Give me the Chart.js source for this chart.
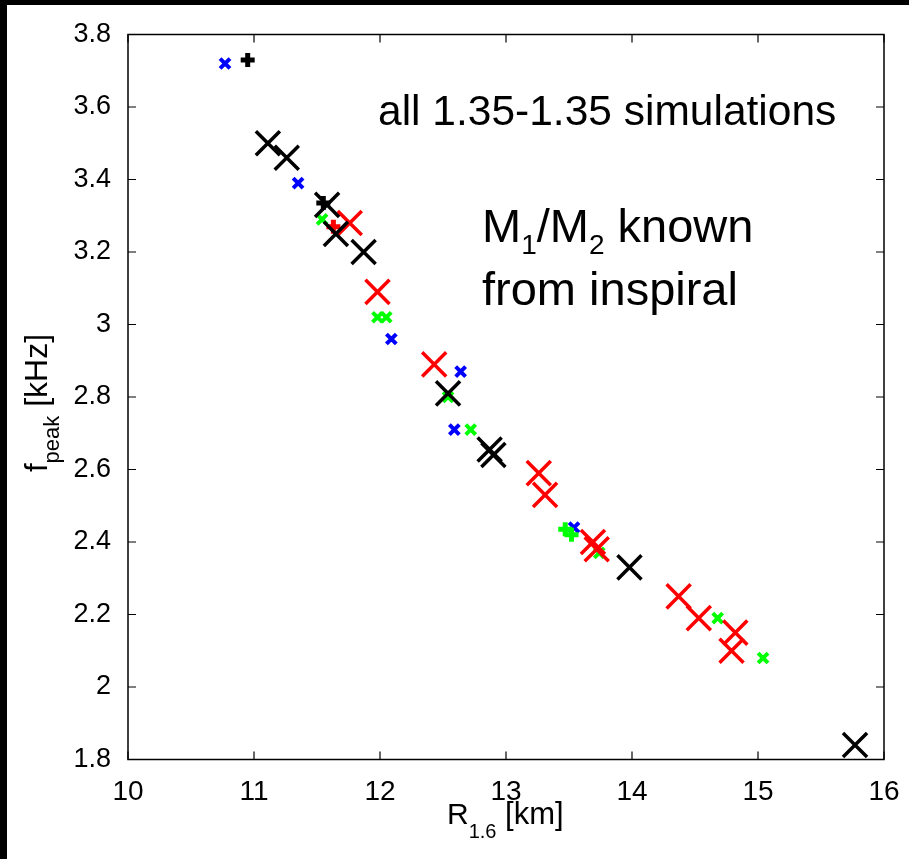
<!DOCTYPE html>
<html>
<head>
<meta charset="utf-8">
<script src="https://cdn.jsdelivr.net/npm/chart.js@4.4.1/dist/chart.umd.min.js"></script>
<style>
  html, body { margin: 0; padding: 0; background: #000; }
  body { width: 909px; height: 859px; position: relative; overflow: hidden; }
  #wrap { position: absolute; left: 7px; top: 5px; width: 902px; height: 854px; background: #fff; }
</style>
</head>
<body>
<div id="wrap"><canvas id="chart" width="902" height="854"></canvas></div>
<script>
// tick values
const xTickValues = [10, 11, 12, 13, 14, 15, 16];
const yTickValues = [1.8, 2, 2.2, 2.4, 2.6, 2.8, 3, 3.2, 3.4, 3.6, 3.8];

// big black crosses
const blackBigR = [11.11, 11.26, 11.58, 11.65, 11.87, 12.54, 12.87, 12.90, 13.98, 15.77];
const blackBigF = [3.50, 3.46, 3.33, 3.25, 3.20, 2.81, 2.655, 2.64, 2.33, 1.84];
// big red crosses
const redBigR = [11.76, 11.98, 12.43, 13.26, 13.31, 13.69, 13.72, 14.37, 14.53, 14.82, 14.79];
const redBigF = [3.28, 3.09, 2.89, 2.59, 2.53, 2.40, 2.38, 2.25, 2.19, 2.15, 2.10];
// small blue crosses
const blueSmallR = [10.77, 11.35, 12.09, 12.64, 12.59, 13.54];
const blueSmallF = [3.72, 3.39, 2.96, 2.87, 2.71, 2.44];
// small green crosses
const greenSmallR = [11.54, 11.98, 12.05, 12.54, 12.72, 13.74, 14.68, 15.04];
const greenSmallF = [3.29, 3.02, 3.02, 2.80, 2.71, 2.37, 2.19, 2.08];
// plus markers
const greenPlusR = [13.47, 13.52];
const greenPlusF = [2.435, 2.42];
const blackPlusR = [10.95, 11.55];
const blackPlusF = [3.73, 3.335];
const redPlusR = [11.63];
const redPlusF = [3.27];

const FONT = "'Liberation Sans', Arial, sans-serif";

function pts(xs, ys) {
  return xs.map((x, i) => ({ x: x, y: ys[i] }));
}

function series(xs, ys, color, style, radius, width) {
  return {
    data: pts(xs, ys),
    borderColor: color,
    backgroundColor: color,
    pointStyle: style,
    pointRadius: radius,
    pointBorderWidth: width,
    pointHoverRadius: radius
  };
}

// draws the box, inward ticks and the text labels
const framePlugin = {
  id: 'frame',
  afterDraw(chart) {
    const ctx = chart.ctx;
    const a = chart.chartArea;
    const xs = chart.scales.x, ys = chart.scales.y;
    ctx.save();
    ctx.strokeStyle = '#000';
    ctx.lineWidth = 1.5;
    ctx.strokeRect(a.left, a.top, a.right - a.left, a.bottom - a.top);
    ctx.lineWidth = 1.2;
    ctx.beginPath();
    xs.ticks.forEach(t => {
      const px = xs.getPixelForValue(t.value);
      ctx.moveTo(px, a.bottom); ctx.lineTo(px, a.bottom - 8);
      ctx.moveTo(px, a.top); ctx.lineTo(px, a.top + 8);
    });
    ys.ticks.forEach(t => {
      const py = ys.getPixelForValue(t.value);
      ctx.moveTo(a.left, py); ctx.lineTo(a.left + 8, py);
      ctx.moveTo(a.right, py); ctx.lineTo(a.right - 8, py);
    });
    ctx.stroke();

    ctx.fillStyle = '#000';
    ctx.textBaseline = 'alphabetic';
    ctx.textAlign = 'left';

    // annotations
    ctx.font = '42.5px ' + FONT;
    ctx.fillText('all 1.35-1.35 simulations', 371, 120);

    let x = 475;
    const base = 237;
    const parts = [['M', 47, 0], ['1', 28, 12], ['/', 47, 0], ['M', 47, 0], ['2', 28, 12], [' known', 47, 0]];
    parts.forEach(p => {
      ctx.font = p[1] + 'px ' + FONT;
      ctx.fillText(p[0], x, base + p[2]);
      x += ctx.measureText(p[0]).width;
    });
    ctx.font = '47px ' + FONT;
    ctx.fillText('from inspiral', 475, 300);

    // x axis title
    x = 440;
    [['R', 30, 0], ['1.6', 20, 14], [' [km]', 31, 0]].forEach(p => {
      ctx.font = p[1] + 'px ' + FONT;
      ctx.fillText(p[0], x, 819 + p[2]);
      x += ctx.measureText(p[0]).width;
    });

    // y axis title (rotated)
    ctx.translate(40, 467);
    ctx.rotate(-Math.PI / 2);
    x = 0;
    [['f', 31, 0], ['peak', 22, 12], [' [kHz]', 32, 0]].forEach(p => {
      ctx.font = p[1] + 'px ' + FONT;
      ctx.fillText(p[0], x, p[2]);
      x += ctx.measureText(p[0]).width;
    });
    ctx.restore();
  }
};

new Chart(document.getElementById('chart'), {
  type: 'scatter',
  data: {
    datasets: [
      series(blackBigR, blackBigF, '#000000', 'crossRot', 17, 3.5),
      series(redBigR, redBigF, '#ff0000', 'crossRot', 17, 3.5),
      series(greenPlusR, greenPlusF, '#00ff00', 'cross', 7, 5),
      series(blackPlusR, blackPlusF, '#000000', 'cross', 7, 5),
      series(redPlusR, redPlusF, '#ff0000', 'cross', 7, 5),
      series(greenSmallR, greenSmallF, '#00ff00', 'crossRot', 7, 4),
      series(blueSmallR, blueSmallF, '#0000ff', 'crossRot', 7, 4)
    ]
  },
  options: {
    responsive: false,
    animation: false,
    events: [],
    layout: { padding: { top: 29.5, right: 25, bottom: 0, left: 0 } },
    plugins: { legend: { display: false }, tooltip: { enabled: false } },
    scales: {
      x: {
        type: 'linear',
        min: 10, max: 16,
        afterBuildTicks: s => { s.ticks = xTickValues.map(v => ({ value: v })); },
        afterFit: s => { s.height = 99.5; },
        grid: { display: false },
        border: { display: false },
        ticks: {
          color: '#000',
          padding: 8,
          maxRotation: 0,
          font: { family: FONT, size: 28 },
          callback: v => String(Number(v.toFixed(1)))
        }
      },
      y: {
        type: 'linear',
        min: 1.8, max: 3.8,
        afterBuildTicks: s => { s.ticks = yTickValues.map(v => ({ value: v })); },
        afterFit: s => { s.width = 121; },
        grid: { display: false },
        border: { display: false },
        ticks: {
          color: '#000',
          padding: 9,
          font: { family: FONT, size: 27 },
          callback: v => String(Number(v.toFixed(1)))
        }
      }
    }
  },
  plugins: [framePlugin]
});
</script>
</body>
</html>
